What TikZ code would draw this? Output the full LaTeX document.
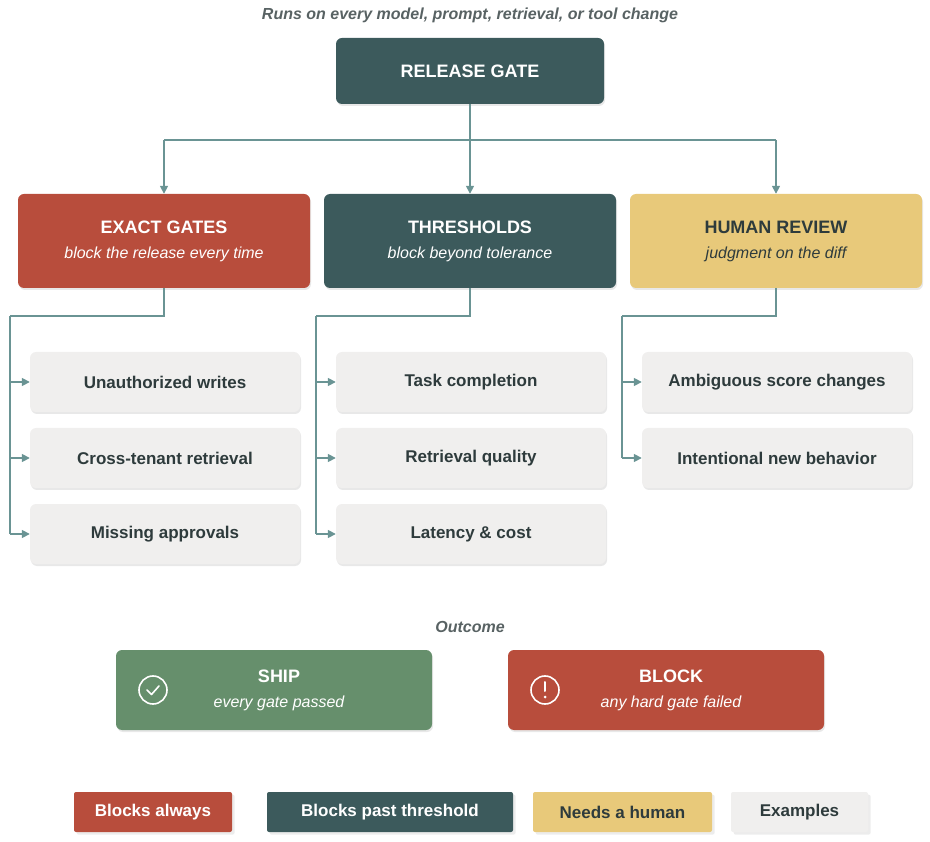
\documentclass[tikz,border=0pt]{standalone}
\usepackage{fontspec}
\setmainfont{Liberation Sans}
\usetikzlibrary{arrows.meta,shadows}
\definecolor{gred}{HTML}{B84D3C}
\definecolor{gteal}{HTML}{3C5A5C}
\definecolor{gyel}{HTML}{E8C97A}
\definecolor{ggray}{HTML}{F0EFEE}
\definecolor{ggreen}{HTML}{668F6C}
\definecolor{gline}{HTML}{6A9494}
\definecolor{gtext}{HTML}{2E3B3C}
\newcommand{\gsub}{\normalfont\itshape\fontsize{16}{20}\selectfont}
\begin{document}
\begin{tikzpicture}
[x=1pt,y=-1pt,
 box/.style={rounded corners=6pt,draw=none,align=center,inner sep=0pt,
   drop shadow={shadow xshift=1pt,shadow yshift=-2pt,opacity=.18}},
 head/.style={box,minimum width=292pt,minimum height=94pt,font=\bfseries\fontsize{18}{22}\selectfont},
 ex/.style={box,fill=ggray,minimum width=270pt,minimum height=60pt,text=gtext,
   font=\bfseries\fontsize{17}{20}\selectfont},
 leg/.style={rounded corners=2pt,minimum height=40pt,inner sep=0pt,
   font=\bfseries\fontsize{17}{20}\selectfont,drop shadow={opacity=.15}},
 conn/.style={gline,line width=1.6pt,-{Triangle[length=8pt,width=8pt]}}]
   \useasboundingbox (0,0) rectangle (930,842);
   \node (runs) at (470,15) {\itshape\bfseries\fontsize{16}{20}\selectfont\color{gtext!80}Runs on every model, prompt, retrieval, or tool change};
   \node[box,fill=gteal,text=white,minimum width=268pt,minimum height=66pt,
     font=\bfseries\fontsize{18}{22}\selectfont] (gate) at (470,71) {RELEASE GATE};
   \node[head,fill=gred,text=white] (exact) at (164,241) {EXACT GATES\\[3pt]{\gsub block the release every time}};
   \node[head,fill=gteal,text=white] (thr) at (470,241) {THRESHOLDS\\[3pt]{\gsub block beyond tolerance}};
   \node[head,fill=gyel,text=gtext] (human) at (776,241) {HUMAN REVIEW\\[3pt]{\gsub judgment on the diff}};
   % examples
   \node[ex] (e1) at (165,382) {Unauthorized writes};
   \node[ex] (e2) at (165,458) {Cross-tenant retrieval};
   \node[ex] (e3) at (165,534) {Missing approvals};
   \node[ex] (t1) at (471,382) {Task completion};
   \node[ex] (t2) at (471,458) {Retrieval quality};
   \node[ex] (t3) at (471,534) {Latency \& cost};
   \node[ex] (h1) at (777,382) {Ambiguous score changes};
   \node[ex] (h2) at (777,458) {Intentional new behavior};
   % fan out
   \draw[gline,line width=1.6pt] (gate.south) -- (470,140) (164,140) -- (776,140);
   \foreach \n/\x in {exact/164,thr/470,human/776}
     \draw[conn] (\x,140) -- (\n.north);
   \foreach \n/\x/\l in {exact/164/10,thr/470/316,human/776/622}
     \draw[gline,line width=1.6pt] (\n.south) -- (\x,316) -- (\l,316);
   \draw[gline,line width=1.6pt] (10,316) -- (10,534) (316,316) -- (316,534) (622,316) -- (622,458);
   \foreach \a/\l in {e1/10,e2/10,e3/10,t1/316,t2/316,t3/316,h1/622,h2/622}
     \draw[conn] (\l,0 |- \a.west) -- (\a.west);
   % outcome
   \node (out) at (470,627) {\itshape\bfseries\fontsize{16}{20}\selectfont\color{gtext!80}Outcome};
   \node[box,fill=ggreen,text=white,minimum width=316pt,minimum height=80pt,
     font=\bfseries\fontsize{18}{22}\selectfont] (ship) at (274,690) {\hspace*{10pt}SHIP\\[3pt]\hspace*{10pt}{\gsub every gate passed}};
   \node[box,fill=gred,text=white,minimum width=316pt,minimum height=80pt,
     font=\bfseries\fontsize{18}{22}\selectfont] (block) at (666,690) {\hspace*{10pt}BLOCK\\[3pt]\hspace*{10pt}{\gsub any hard gate failed}};
   \draw[white,line width=1.6pt] (153,690) circle (14);
   \draw[white,line width=1.6pt,line cap=round,line join=round] (147,690) -- (151.5,694.5) -- (159,686);
   \draw[white,line width=1.6pt] (545,690) circle (14);
   \draw[white,line width=2pt,line cap=round] (545,682) -- (545,691);
   \fill[white] (545,697) circle (1.5);
   % legend
   \node[leg,fill=gred,text=white,minimum width=158pt] (l1) at (153,812) {Blocks always};
   \node[leg,fill=gteal,text=white,minimum width=246pt] (l2) at (390,812) {Blocks past threshold};
   \node[leg,fill=gyel,text=gtext,minimum width=179pt] (l3) at (622.5,812) {Needs a human};
   \node[leg,fill=ggray,text=gtext,minimum width=137pt] (l4) at (799.5,812) {Examples};
\end{tikzpicture}
\end{document}
